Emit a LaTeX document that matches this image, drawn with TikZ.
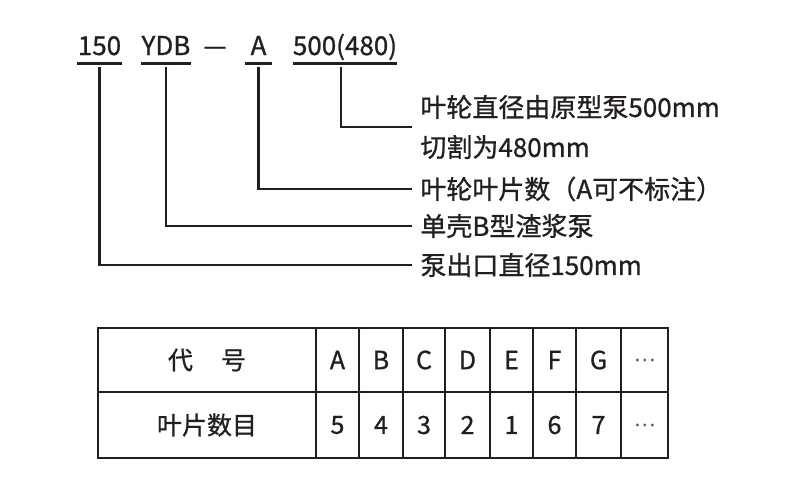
\documentclass[tikz,border=0pt]{standalone}
\usepackage{fontspec}
\setmainfont{Noto Sans CJK SC}[FakeBold=0.9]
\usepackage{xcolor}
\definecolor{inchiostro}{HTML}{231F20}
\tikzset{
	code/.style={anchor=base, inner sep=0pt, text depth=4pt, font=\fontsize{13pt}{15pt}\selectfont, text=inchiostro},
	note/.style={anchor=west, inner xsep=4pt, inner ysep=0pt, align=left, font=\fontsize{13pt}{20pt}\selectfont, text=inchiostro},
	link/.style={line width=1.1pt, draw=inchiostro},
	griglia/.style={line width=1.1pt, draw=inchiostro},
	cella/.style={inner sep=0pt, font=\fontsize{12.5pt}{14pt}\selectfont, text=inchiostro},
	puntini/.style={inner sep=0pt, font=\fontsize{10pt}{12pt}\selectfont, text=inchiostro!75},
}
\begin{document}
\begin{tikzpicture}[x=0.5pt, y=-0.5pt]
		\useasboundingbox (0,0) rectangle (800,500);
		
		%SIGLA
		\node[code, minimum width=19.5pt] (c150) at (99.5,55) {150};
		\node[code, minimum width=20pt] (cydb) at (166,55) {YDB};
		\node[code] (trat) at (215,55) {—};
		\node[code, minimum width=13.5pt] (ca) at (258.5,55) {A};
		\node[code, minimum width=52pt] (c500) at (345,55) {500(480)};
		\foreach \c in {c150,cydb,ca,c500}
			\draw[link] (\c.south west) -- (\c.south east);
		
		%DESCRIZIONI
		\node[note] (n500) at (412,127) {叶轮直径由原型泵500mm\\切割为480mm};
		\node[note] (na) at (412,189) {叶轮叶片数（A可不标注）};
		\node[note] (nydb) at (412,226) {单壳B型渣浆泵};
		\node[note] (n150) at (412,265) {泵出口直径150mm};
		
		%linee
		\draw[link] ([xshift=-2pt,yshift=-2pt]c500.south) |- (n500.west);
		\draw[link] ([yshift=-2pt]ca.south) |- (na.west);
		\draw[link] ([yshift=-2pt]cydb.south) |- (nydb.west);
		\draw[link] ([yshift=-2pt]c150.south) |- (n150.west);
		
		%TABELLA
		\draw[griglia] (98,328) rectangle (668,458);
		\draw[griglia] (98,392) -- (668,392);
		\foreach \x in {316,359,403,445,490,533,576,621}
			\draw[griglia] (\x,328) -- (\x,458);
		\node[cella] (h0) at (207,360) {代\hspace{14pt}号};
		\node[cella] (r0) at (207,425) {叶片数目};
		\foreach \cx/\l/\n [count=\i] in {337.5/A/5, 381/B/4, 424/C/3, 467.5/D/2, 511.5/E/1, 554.5/F/6, 598.5/G/7}{
			\node[cella] (h\i) at (\cx,360) {\l};
			\node[cella] (r\i) at (\cx,425) {\n};
		}
		\node[puntini] (h8) at (644.5,360) {…};
		\node[puntini] (r8) at (644.5,425) {…};
		
	\end{tikzpicture}
\end{document}
